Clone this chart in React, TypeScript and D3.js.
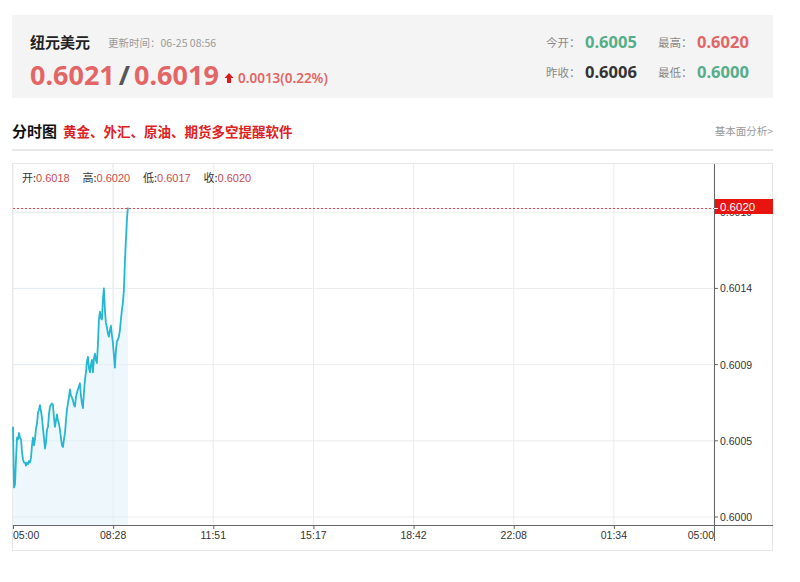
import React from "react";
import * as d3 from "d3";

// ---- data ----
const symbolName = "纽元美元";
const updateTime = "更新时间：06-25 08:56";
const bidAsk = ["0.6021", "0.6019"];
const change = "0.0013(0.22%)";
const statsLabels = ["今开：", "最高：", "昨收：", "最低："];
const statsValues = ["0.6005", "0.6020", "0.6006", "0.6000"];
const legendLabels = ["开:", "高:", "低:", "收:"];
const legendValues = ["0.6018", "0.6020", "0.6017", "0.6020"];

const xTickMinutes = [0, 205.714, 411.429, 617.143, 822.857, 1028.571, 1234.286, 1440];
const xTickLabels = ["05:00", "08:28", "11:51", "15:17", "18:42", "22:08", "01:34", "05:00"];
const yTickValues = [0.6, 0.60049, 0.60098, 0.60147, 0.60196];
const yTickLabels = ["0.6000", "0.6005", "0.6009", "0.6014", "0.6019"];

const lastMinute = 236; // 05:00 -> 08:56
const prices = [
  0.60058, 0.60019, 0.60021, 0.60037, 0.60051, 0.6005, 0.60054, 0.60051, 0.6005, 0.60042,
  0.60037, 0.60035, 0.60035, 0.60033, 0.60035, 0.60034, 0.60036, 0.60035, 0.60038, 0.60046,
  0.60051, 0.60046, 0.6005, 0.60057, 0.6006, 0.60067, 0.60069, 0.60072, 0.60068, 0.60064,
  0.60057, 0.60051, 0.60044, 0.60048, 0.60056, 0.60058, 0.60066, 0.60071, 0.60072, 0.60073,
  0.60072, 0.60064, 0.60058, 0.60062, 0.60066, 0.60062, 0.6006, 0.60056, 0.60051, 0.60046,
  0.60045, 0.6005, 0.60054, 0.60062, 0.60069, 0.60073, 0.60077, 0.60082, 0.60078, 0.60077,
  0.60075, 0.60072, 0.60071, 0.60077, 0.6008, 0.60082, 0.60084, 0.60086, 0.60078, 0.60073,
  0.6007, 0.6008, 0.60088, 0.60093, 0.601, 0.60103, 0.60096, 0.60093, 0.60098, 0.60101,
  0.60093, 0.60102, 0.60105, 0.60101, 0.60099, 0.60111, 0.60127, 0.60132, 0.60128, 0.60127,
  0.6014, 0.60147, 0.60133, 0.60125, 0.60122, 0.60118, 0.60116, 0.6012, 0.60123, 0.60117,
  0.60112, 0.60104, 0.60096, 0.60107, 0.60113, 0.60114, 0.60116, 0.6012, 0.60127, 0.60133,
  0.60138, 0.60146, 0.60164, 0.60178, 0.60191, 0.60199,
];

const CJK = "'Noto Sans CJK SC', 'Noto Sans', sans-serif";
const NUM = "'Noto Sans', 'Noto Sans CJK SC', sans-serif";
const AX = "'Liberation Sans', Arial, sans-serif";

export default function App() {
  const left = 13;
  const right = 714;
  const axisY = 525;
  const x = d3.scaleLinear().domain([0, 1440]).range([left, right]);
  const y = d3.scaleLinear().domain([0.6, 0.602]).range([517, 206]);

  const step = lastMinute / (prices.length - 1);
  const pts: [number, number][] = prices.map((p, i) => [i * step, p]);
  const line = d3
    .line<[number, number]>()
    .x((d) => x(d[0]))
    .y((d) => y(d[1]));
  const area = d3
    .area<[number, number]>()
    .x((d) => x(d[0]))
    .y0(axisY)
    .y1((d) => y(d[1]));

  const last = prices[prices.length - 1];
  const lastY = Math.round(y(last)) + 0.5;

  return (
    <svg
      width={800}
      height={582}
      style={{ position: "absolute", left: 0, top: 0, background: "#fff" }}
    >
      {/* header box */}
      <rect x={12} y={15} width={761} height={83} fill="#f4f4f4" />
      <text x={30} y={48} fontFamily={CJK} fontSize={15} fontWeight="bold" fill="#222">
        {symbolName}
      </text>
      <text x={108} y={47} fontFamily={CJK} fontSize={10.5} fill="#9a9a9a">
        {updateTime}
      </text>
      <text x={30} y={85} fontFamily={NUM} fontSize={27} fontWeight="bold" fill="#e36565">
        <tspan>{bidAsk[0]}</tspan>
        <tspan fill="#555" dx={4}>/</tspan>
        <tspan dx={4}>{bidAsk[1]}</tspan>
      </text>
      <path d="M229,73 L233.5,78 L231,78 L231,83 L227,83 L227,78 L224.5,78 Z" fill="#e01818" />
      <text x={238} y={83} fontFamily={NUM} fontSize={13.5} fontWeight="600" fill="#e36565">
        {change}
      </text>
      {statsLabels.map((l, i) => {
        const cx = i % 2 === 0 ? 546 : 658;
        const cy = i < 2 ? 48 : 78;
        const col = i === 1 ? "#e36565" : i === 2 ? "#333" : "#55ad8a";
        return (
          <g key={i}>
            <text x={cx} y={cy - 1} fontFamily={CJK} fontSize={11.5} fill="#888">
              {l}
            </text>
            <text x={cx + 39} y={cy} fontFamily={NUM} fontSize={16.5} fontWeight="bold" fill={col}>
              {statsValues[i]}
            </text>
          </g>
        );
      })}

      {/* section title */}
      <text x={12} y={137} fontFamily={CJK} fontSize={15} fontWeight="bold" fill="#111">
        分时图
      </text>
      <text x={63} y={137} fontFamily={CJK} fontSize={13.5} fontWeight="bold" fill="#dd2222">
        黄金、外汇、原油、期货多空提醒软件
      </text>
      <text x={773} y={135} textAnchor="end" fontFamily={CJK} fontSize={10.5} fill="#999">
        基本面分析&gt;
      </text>
      <rect x={12} y={149} width={761} height={2} fill="#e8e8e8" />

      {/* chart box */}
      <rect x={12.5} y={163.5} width={760} height={387} fill="#fff" stroke="#e6e6e6" />

      {/* grid */}
      {xTickMinutes.map((m, i) => (
        <line key={"vg" + i} x1={x(m)} x2={x(m)} y1={164} y2={axisY} stroke="#ececec" />
      ))}
      {yTickValues.map((v, i) => (
        <line key={"hg" + i} x1={left} x2={right} y1={y(v)} y2={y(v)} stroke="#ececec" />
      ))}

      {/* area + line */}
      <path d={area(pts) || ""} fill="#eef8fc" />
      {yTickValues.map((v, i) => (
        <line key={"hg2" + i} x1={left} x2={x(lastMinute)} y1={y(v)} y2={y(v)} stroke="#e2eef3" />
      ))}
      <line x1={x(xTickMinutes[1])} x2={x(xTickMinutes[1])} y1={164} y2={axisY} stroke="#e2eef3" />
      <path d={line(pts) || ""} fill="none" stroke="#25b6d2" strokeWidth={1.8} strokeLinejoin="round" />

      {/* axes */}
      <line x1={left} x2={773} y1={axisY + 0.5} y2={axisY + 0.5} stroke="#666" />
      <line x1={right + 0.5} x2={right + 0.5} y1={164} y2={541} stroke="#666" />
      {xTickMinutes.map((m, i) => (
        <g key={"xt" + i}>
          <line x1={x(m) + 0.5} x2={x(m) + 0.5} y1={axisY} y2={axisY + 4} stroke="#666" />
          <text
            x={x(m)}
            y={539}
            textAnchor={i === 0 ? "start" : i === xTickMinutes.length - 1 ? "end" : "middle"}
            fontFamily={AX}
            fontSize={10.5}
            fill="#333"
          >
            {xTickLabels[i]}
          </text>
        </g>
      ))}
      {yTickValues.map((v, i) => (
        <g key={"yt" + i}>
          <line x1={right} x2={right + 4} y1={y(v)} y2={y(v)} stroke="#666" />
          <text x={720} y={y(v) + 4} fontFamily={AX} fontSize={10.5} fill="#333">
            {yTickLabels[i]}
          </text>
        </g>
      ))}

      {/* current price marker */}
      <line x1={left} x2={right} y1={lastY} y2={lastY} stroke="#f04040" strokeDasharray="2,2" />
      <rect x={715} y={199} width={58} height={15} fill="#e8140f" />
      <line x1={right} x2={right + 4} y1={lastY} y2={lastY} stroke="#fff" />
      <text x={720} y={211} fontFamily={AX} fontSize={11.5} fill="#fff">
        {last.toFixed(4)}
      </text>

      {/* legend */}
      <text y={182} fontFamily={CJK} fontSize={11} fill="#333">
        {legendLabels.map((l, i) => (
          <tspan key={i} x={22 + i * 60.5}>
            {l}
            <tspan fill="#cc4b4b" fontFamily={AX}>{legendValues[i]}</tspan>
          </tspan>
        ))}
      </text>
    </svg>
  );
}
